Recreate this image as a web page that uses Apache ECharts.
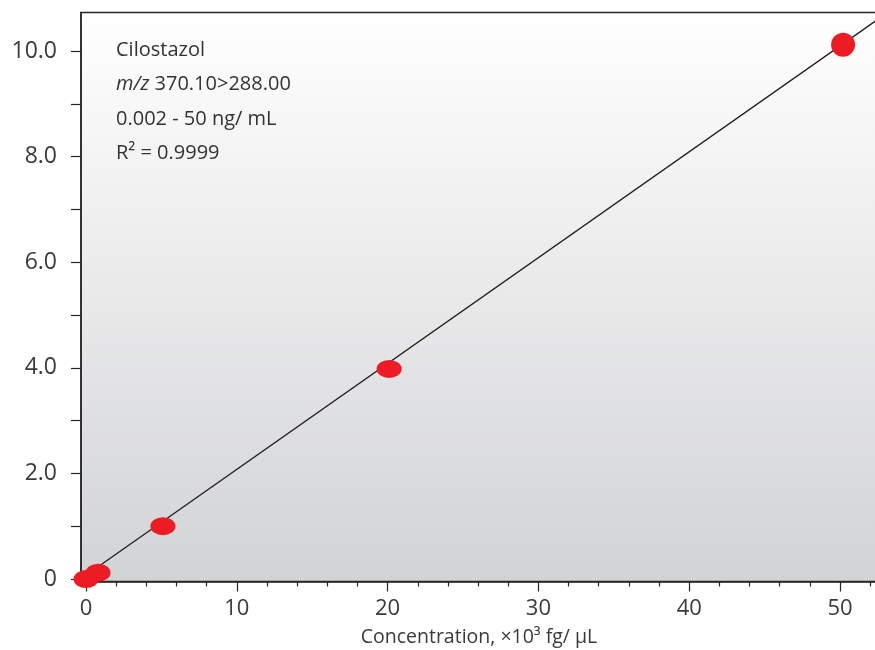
<!DOCTYPE html>
<html>
<head>
<meta charset="utf-8">
<script src="https://cdn.jsdelivr.net/npm/echarts@6/dist/echarts.min.js"></script>
<style>
  html, body { margin: 0; padding: 0; background: #fff; }
  #chart { width: 875px; height: 650px; }
</style>
</head>
<body>
<div id="chart"></div>
<script>
// calibration points (x: ×10³ fg/µL, y: response)
const concX = [0.002, 0.8, 5.1, 20.1, 50.2]
const respY = [0.0, 0.12, 1.0, 3.98, 10.12]

// regression line
const fitSlope = 0.2005
const fitIntercept = 0.072
const fitX = [0, 52.45]

const yTicks = [0, 1, 2, 3, 4, 5, 6, 7, 8, 9, 10]
const yLabels = [0, 2, 4, 6, 8, 10]
const xLabels = [0, 10, 20, 30, 40, 50]
const xMinorTicks = [2, 4, 6, 8, 12, 14, 16, 18, 22, 24, 26, 28, 32, 34, 36, 38, 42, 44, 46, 48, 52]

const X_MIN = -0.33
const X_MAX = 52.45
const Y_MIN = -0.047
const Y_MAX = 10.73

const font = '"Open Sans", "Noto Sans", sans-serif'
const textColor = '#3a3a3a'

const chart = echarts.init(document.getElementById('chart'))

const points = concX.map((x, i) => [x, respY[i]])
const fitLine = fitX.map((x) => [x, fitIntercept + fitSlope * x])

chart.setOption({
  animation: false,
  grid: {
    left: 81,
    top: 12.5,
    right: -2,
    bottom: 68.5,
    containLabel: false,
    outerBoundsMode: 'none',
    show: true,
    borderColor: '#262626',
    borderWidth: 1.5,
    backgroundColor: new echarts.graphic.LinearGradient(0, 0, 0, 1, [
      { offset: 0, color: '#ffffff' },
      { offset: 1, color: '#d2d3d5' }
    ])
  },
  xAxis: [
    {
      type: 'value',
      min: X_MIN,
      max: X_MAX,
      splitLine: { show: false },
      axisLine: { show: true, onZero: false, lineStyle: { color: '#262626', width: 1.5 } },
      axisTick: { show: true, customValues: xLabels, length: 10, lineStyle: { color: '#262626', width: 1.2 } },
      axisLabel: {
        customValues: xLabels,
        margin: 16,
        fontSize: 22,
        fontFamily: font,
        color: textColor
      },
      name: 'Concentration, ×10³ fg/ µL',
      nameLocation: 'middle',
      nameGap: 46,
      nameTextStyle: { fontSize: 19.5, fontFamily: font, color: textColor }
    },
    {
      type: 'value',
      position: 'bottom',
      min: X_MIN,
      max: X_MAX,
      splitLine: { show: false },
      axisLine: { show: false, onZero: false },
      axisLabel: { show: false },
      axisTick: { show: true, customValues: xMinorTicks, length: 5, lineStyle: { color: '#262626', width: 1.2 } }
    }
  ],
  yAxis: {
    type: 'value',
    min: Y_MIN,
    max: Y_MAX,
    splitLine: { show: false },
    axisLine: { show: true, onZero: false, lineStyle: { color: '#262626', width: 1.5 } },
    axisTick: { show: true, customValues: yTicks, length: 10, lineStyle: { color: '#262626', width: 1.2 } },
    axisLabel: {
      customValues: yLabels,
      margin: 24,
      fontSize: 23,
      fontFamily: font,
      color: textColor,
      formatter: (v) => (v === 0 ? '0' : v.toFixed(1))
    }
  },
  graphic: [
    {
      type: 'text',
      left: 116,
      top: 33,
      style: {
        text: [
          'Cilostazol',
          '{it|m/z} 370.10>288.00',
          '0.002 - 50 ng/ mL',
          'R² = 0.9999'
        ].join('\n'),
        font: '20px ' + font,
        fill: '#333',
        lineHeight: 34.5,
        rich: {
          it: { fontStyle: 'italic', fontSize: 20, fontFamily: font, fill: '#333', lineHeight: 34.5 }
        }
      }
    }
  ],
  series: [
    {
      type: 'line',
      data: fitLine,
      symbol: 'none',
      lineStyle: { color: '#1e1e1e', width: 1.3 },
      z: 2
    },
    {
      type: 'scatter',
      data: points,
      symbol: 'circle',
      symbolSize: (v, p) => (p.dataIndex === concX.length - 1 ? [24, 24] : [25, 18]),
      itemStyle: { color: '#ed1c24', opacity: 1 },
      z: 3
    }
  ]
})
</script>
</body>
</html>
